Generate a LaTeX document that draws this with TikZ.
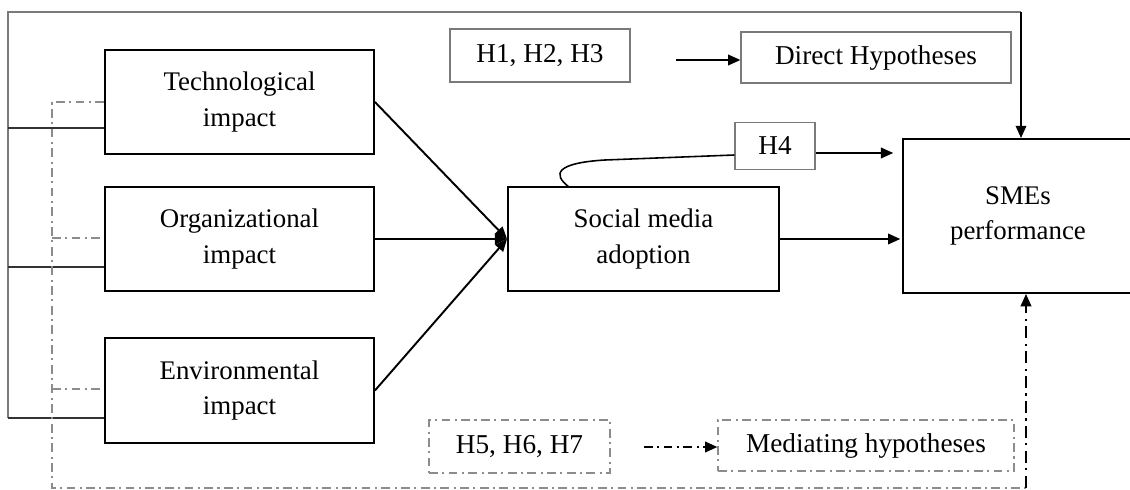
\documentclass[tikz,border=0pt]{standalone}
\usepackage{fontspec}
\setmainfont{Liberation Serif}
\newfontfamily\legendfont{Liberation Serif}
\usetikzlibrary{arrows.meta}
\definecolor{frameline}{HTML}{7A7A7A}
\definecolor{softgray}{HTML}{8C8C8C}

\begin{document}
\begin{tikzpicture}[x=0.02cm, y=-0.02cm,
  every node/.style={inner sep=0pt, align=center},
  construct/.style={draw, line width=1.1pt, font=\fontsize{15.3}{20}\selectfont},
  legend/.style={draw=frameline, line width=0.7pt, font=\legendfont\fontsize{15.5}{18}\selectfont},
  medlegend/.style={legend, draw=softgray, dash pattern=on 5pt off 2.5pt on 1.2pt off 2.5pt},
  path/.style={line width=1.1pt, -{Triangle[length=7pt, width=6pt]}},
  dashdot/.style={softgray, line width=0.7pt, dash pattern=on 5pt off 2.5pt on 1.2pt off 2.5pt}]
  \useasboundingbox (0,0) rectangle (1130,490);
  % Constructs
  \node[construct, minimum width=5.38cm, minimum height=2.08cm] (tech) at (239.5,102) {Technological\\impact};
  \node[construct, minimum width=5.38cm, minimum height=2.08cm] (org) at (239.5,239) {Organizational\\impact};
  \node[construct, minimum width=5.38cm, minimum height=2.1cm] (env) at (239.5,390.5) {Environmental\\impact};
  \node[construct, minimum width=5.42cm, minimum height=2.08cm] (sma) at (643.5,239) {Social media\\adoption};
  \node[construct, minimum width=4.6cm, minimum height=3.08cm] (sme) at (1018,216) {SMEs\\performance};
  \node[legend, minimum width=1.6cm, minimum height=0.94cm] (h4) at (775,146) {H4};
  % Legend
  \node[legend, minimum width=3.6cm, minimum height=1.06cm] (h13) at (540,55.5) {H1, H2, H3};
  \node[legend, minimum width=5.4cm, minimum height=1.02cm] (direct) at (876,57.5) {Direct Hypotheses};
  \node[medlegend, minimum width=3.62cm, minimum height=1.06cm] (h57) at (519.5,446.5) {H5, H6, H7};
  \node[medlegend, minimum width=5.92cm, minimum height=1.02cm] (mediating) at (866,445.5) {Mediating hypotheses};
  \coordinate (dstart) at (676,60);
  \coordinate (mstart) at (644,447);
  \draw[path] (dstart) -- (direct.west |- dstart);
  \draw[path, dash pattern=on 5pt off 2.5pt on 1.2pt off 2.5pt] (mstart) -- (mediating.west |- mstart);
  % Direct paths
  \foreach \src in {tech, org, env}
    \draw[path] (\src.east) -- (sma.west);
  \draw[path, shorten >=1pt] (sma.east) -- (sme.west |- sma.east);
  \draw[line width=0.9pt] (569,187) .. controls (552,174) and (556,163) .. (605,160) -- (h4.west |- 0,155);
  \draw[path, shorten >=5pt] (h4.east |- 0,153) -- (sme.west |- 0,153);
  % Outer frame
  \coordinate (ftop) at (1021,12);
  \draw[frameline, line width=0.7pt] (8,418) -- (8,12) -- (ftop);
  \foreach \nd/\yy in {tech/128, org/267, env/418}
    \draw[black!80, line width=0.7pt] (8,\yy) -- (\nd.west |- 0,\yy);
  \draw[path] (ftop) -- (sme.north -| ftop);
  % Mediating frame
  \coordinate (mbot) at (1026,488);
  \draw[dashdot] (tech.west) -- (52,102) -- (52,488) -- (mbot);
  \draw[dashdot] (52,238) -- (org.west |- 0,238);
  \draw[dashdot] (52,389) -- (env.west |- 0,389);
  \draw[path, dash pattern=on 7pt off 3pt on 1.2pt off 3pt] (mbot) -- (sme.south -| mbot);
\end{tikzpicture}
\end{document}
